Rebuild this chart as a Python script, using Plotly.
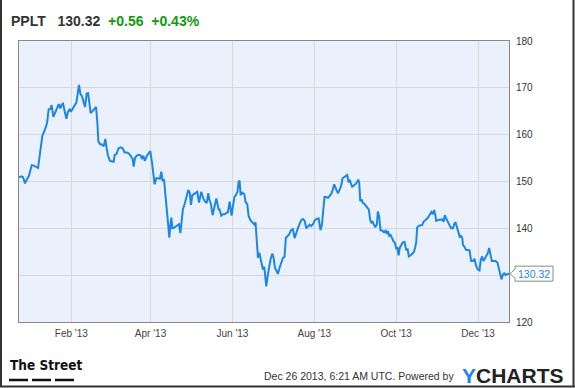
import plotly.graph_objects as go
import pandas as pd

# ---------------- data ----------------
ticker = "PPLT"
last_price_text = "130.32"
change_text = "+0.56"
change_pct_text = "+0.43%"
start_date = "2012-12-24"

# days since start_date
day_offsets = [
    0.0, 1.8, 3.0, 4.5, 6.0, 7.5, 9.5, 11.2, 12.7, 14.2, 15.7, 17.4, 19.1, 20.9,
    22.1, 23.4, 24.3, 25.6, 27.1, 28.3, 29.6, 30.8, 31.8, 32.8, 34.0, 35.3, 36.5,
    37.8, 38.7, 40.0, 41.5, 42.7, 44.0, 44.7, 45.7, 46.9, 48.2, 49.2, 50.4, 51.4,
    52.4, 53.4, 54.9, 56.4, 57.4, 58.4, 59.1, 60.3, 61.6, 63.1, 64.3, 65.3, 66.3,
    67.8, 69.3, 70.5, 71.3, 72.7, 74.2,
    75.7, 77.2, 78.7, 80.2, 81.7, 83.2, 84.7, 85.4, 86.4, 87.6, 89.1, 90.6, 91.6,
    92.6, 93.8, 95.3, 96.8, 97.8, 99.1, 100.1, 101.0, 102.3, 103.8, 105.0, 106.0,
    107.0, 108.0, 109.0, 110.0, 111.2, 112.0, 112.7, 113.5, 114.2, 115.4, 116.7,
    118.2, 119.2, 120.2, 121.1, 122.1, 123.4, 124.6, 126.1, 127.1, 128.1, 129.1,
    130.6, 131.6, 132.8, 134.1, 135.1, 135.8, 137.0, 138.3, 139.8, 141.0, 142.0,
    143.0, 144.2, 145.5, 147.0, 147.7, 148.7,
    149.4, 150.7, 151.9, 153.2, 154.4, 155.6, 156.9, 157.6, 158.4, 159.4, 160.6,
    161.6, 162.8, 163.6, 164.3, 165.1, 166.3, 167.8, 168.8, 170.0, 171.0, 172.3,
    173.8, 175.3, 176.2, 177.2, 178.0, 179.0, 180.0, 181.0, 181.7, 182.7, 183.4,
    184.2, 185.2, 186.2, 187.4, 188.7, 189.7, 190.6, 191.6, 192.9, 194.1, 195.4,
    196.6, 197.8, 198.8, 200.3, 201.6, 202.6, 204.0, 205.3, 206.5, 207.8, 209.0,
    210.3, 211.5, 212.8, 214.0, 215.3, 216.5, 217.7, 219.0, 220.2, 221.5, 223.2,
    224.6, 225.6, 226.9, 227.6, 228.9, 230.1, 231.4, 232.8, 233.8, 234.8, 236.3,
    237.6, 238.8, 240.0, 241.0, 242.3, 243.3, 244.5, 245.5, 246.3, 247.2, 248.2,
    249.7, 251.2, 252.7, 253.4, 254.2, 255.2, 256.2, 257.4, 258.7, 259.6, 260.6,
    261.6, 262.6, 263.4, 264.4, 265.4, 266.6, 267.3, 268.3, 269.3, 270.6, 271.8,
    273.1, 274.0, 274.8, 275.8, 276.8, 277.8, 279.0, 280.0, 281.0, 282.0, 282.7,
    283.7, 284.7, 285.9, 287.2, 288.4, 289.4, 290.4, 291.6, 292.9, 294.1, 295.1,
    295.9, 296.6, 297.9,
    298.4, 300.3, 301.6, 302.8, 304.1, 305.3, 306.6, 307.3, 308.3, 309.3, 310.1,
    310.8, 312.3, 313.8, 315.3, 316.3, 317.2, 318.2, 319.5, 320.7, 321.9, 323.2,
    324.4, 325.2, 326.2, 327.2, 328.2, 329.2, 330.2, 330.7, 331.9, 333.1, 334.3,
    335.6, 336.8, 338.1, 339.3, 340.5, 341.8, 343.0, 344.0, 345.0, 346.0, 347.0,
    348.0, 349.2, 350.2, 351.2, 352.2, 353.5, 355.0, 356.4, 357.4, 358.4, 359.4,
    360.4, 361.4, 362.4, 363.4, 365.0,
]

prices = [
    150.9, 151.1, 150.9, 149.6, 150.5, 151.3, 153.5, 153.4, 153.1, 152.9, 156.1,
    159.8, 160.9, 162.5, 165.4, 165.5, 166.3, 163.8, 164.8, 165.6, 166.5, 165.6,
    166.4, 166.6, 165.0, 163.4, 164.9, 165.4, 164.9, 165.7, 166.3, 166.8, 168.9,
    170.6, 168.7, 168.2, 166.9, 165.9, 168.8, 168.9, 166.8, 164.6, 165.1, 165.7,
    165.9, 162.5, 158.6, 158.0, 157.9, 157.5, 159.1, 157.1, 155.5, 154.4, 154.3,
    154.2, 155.7, 155.9, 157.1,
    157.3, 157.1, 156.2, 156.2, 156.0, 155.5, 154.8, 153.2, 155.0, 155.5, 155.7,
    155.6, 154.8, 155.5, 154.4, 155.5, 156.1, 156.5, 154.0, 151.2, 149.4, 150.7,
    150.7, 150.6, 152.1, 150.1, 150.5, 147.0, 143.4, 140.4, 138.0, 140.6, 142.3,
    140.0, 140.1, 140.4, 140.7, 140.9, 139.0, 141.3, 144.1, 145.2, 146.6, 148.2,
    147.7, 145.0, 147.1, 147.4, 147.7, 147.8, 145.5, 147.3, 147.8, 146.6, 145.8,
    145.4, 147.5, 145.9, 145.2, 142.8, 144.8, 146.4, 145.4, 144.0,
    144.0, 142.7, 143.0, 143.0, 143.3, 143.4, 145.7, 144.0, 142.7, 144.8, 146.8,
    147.1, 147.9, 149.9, 150.2, 147.1, 147.6, 147.3, 145.6, 145.2, 142.7, 141.8,
    141.3, 140.8, 141.3, 135.9, 133.7, 134.8, 133.4, 132.3, 131.2, 131.8, 129.8,
    127.6, 129.8, 131.9, 133.4, 134.6, 133.7, 131.6, 130.9, 130.3, 131.6, 133.0,
    133.7, 133.9, 138.0, 138.4, 138.9, 139.6, 139.8, 137.9, 139.1, 140.1, 140.9,
    141.8, 142.0, 141.6, 140.0, 140.4, 140.8, 140.5, 140.9, 141.6, 142.0, 142.1,
    139.6, 140.7, 145.4, 146.7, 146.7, 146.5, 146.9, 147.5, 148.3, 149.4, 148.3,
    147.5, 148.2, 149.1, 150.7, 150.9, 151.2, 151.4, 149.8, 150.4, 149.6, 148.9,
    149.2, 149.6, 150.4, 149.8, 145.8, 146.2, 145.4, 145.2, 144.7, 144.3, 144.0,
    141.8, 141.1, 141.4, 140.7, 140.2, 140.9, 143.6, 142.5, 139.6, 139.5, 139.2,
    139.5, 138.8, 139.4, 138.4, 138.6, 137.8, 137.2, 136.9, 135.7, 135.8, 134.2,
    135.9, 136.4, 137.0, 137.1, 135.3, 135.7, 134.0, 134.2, 134.6, 134.9, 135.9,
    137.1, 140.2, 140.5,
    140.6, 140.7, 141.5, 141.8, 142.1, 142.6, 143.2, 143.5, 143.0, 143.9, 142.8,
    141.6, 141.8, 141.8, 141.9, 141.4, 142.8, 142.1, 141.3, 140.5, 140.0, 140.0,
    141.1, 141.2, 140.4, 139.3, 138.2, 138.4, 137.9, 136.5, 136.0, 135.4, 135.4,
    135.3, 133.0, 133.0, 133.5, 132.0, 131.2, 131.0, 133.3, 134.0, 133.0, 133.5,
    133.8, 134.7, 135.8, 134.4, 133.0, 133.0, 133.0, 132.7, 131.5, 130.5, 129.1,
    130.1, 130.4, 130.0, 130.2, 130.32,
]

tick_dates = ["2013-02-01", "2013-04-01", "2013-06-01", "2013-08-01", "2013-10-01", "2013-12-01"]
tick_labels = ["Feb '13", "Apr '13", "Jun '13", "Aug '13", "Oct '13", "Dec '13"]
y_tick_vals = [120, 130, 140, 150, 160, 170, 180]
y_tick_text = ["120", "", "140", "150", "160", "170", "180"]  # 130 is hidden behind the price flag
y_range = [120, 180]

footer_text = "Dec 26 2013, 6:21 AM UTC. Powered by"

# ---------------- figure ----------------
dates = pd.Timestamp(start_date) + pd.to_timedelta(day_offsets, unit="D")

LINE = "#1a87e6"
GREEN = "#0f9a0f"
W, H = 575, 388
ML, MR, MT, MB = 19, 66, 41, 66
PW, PH = W - ML - MR, H - MT - MB


def px(x):
    return (x - ML) / PW


def py(y):
    return (H - MB - y) / PH


fig = go.Figure()
fig.add_trace(go.Scatter(
    x=dates, y=prices, mode="lines",
    line=dict(color=LINE, width=2),
    hoverinfo="skip",
))

font = "Liberation Sans, Arial, sans-serif"

fig.update_layout(
    width=W, height=H,
    margin=dict(l=ML, r=MR, t=MT, b=MB, pad=0),
    paper_bgcolor="white",
    plot_bgcolor="#EAF1FC",
    showlegend=False,
    font=dict(family=font, size=10, color="#333"),
    xaxis=dict(
        range=[dates[0], dates[-1]],
        tickvals=tick_dates, ticktext=tick_labels,
        showgrid=True, gridcolor="#D8D8D8", gridwidth=1,
        showline=True, linecolor="#888", linewidth=1, mirror=True,
        ticks="", zeroline=False,
        tickfont=dict(family=font, size=10, color="#444"),
        ticklabelstandoff=2,
    ),
    yaxis=dict(
        range=y_range, tickvals=y_tick_vals, ticktext=y_tick_text,
        side="right",
        showgrid=True, gridcolor="#D8D8D8", gridwidth=1,
        showline=True, linecolor="#888", linewidth=1, mirror=True,
        ticks="", zeroline=False,
        tickfont=dict(family=font, size=10, color="#333"),
        ticklabelstandoff=4,
    ),
)

# Title line
title_html = (
    f"<b>{ticker}</b>&nbsp;&nbsp;&nbsp;<b>{last_price_text}</b>&nbsp;&nbsp;"
    f"<span style='color:{GREEN}'><b>{change_text}</b>&nbsp;&nbsp;<b>{change_pct_text}</b></span>"
)
fig.add_annotation(
    xref="paper", yref="paper", x=px(8.5), y=py(21),
    xanchor="left", yanchor="middle", showarrow=False,
    text=title_html, font=dict(family=font, size=14, color="#333"),
)

# Last price label (box + notch) anchored at last data point
fig.add_shape(
    type="path", xref="paper", yref="y",
    xsizemode="pixel", ysizemode="pixel",
    xanchor=1, yanchor=prices[-1],
    path="M 1,0 L 6,4.5 L 6,7.5 L 44,7.5 L 44,-7.5 L 6,-7.5 L 6,-4.5 Z",
    fillcolor="white", line=dict(color="#8a8a8a", width=1), layer="above",
)
fig.add_annotation(
    xref="paper", yref="y", x=1, y=prices[-1], xshift=25,
    xanchor="center", yanchor="middle", showarrow=False,
    text=f"{prices[-1]:.2f}", font=dict(family=font, size=10.5, color=LINE),
)

# Footer: The Street logo
fig.add_annotation(
    xref="paper", yref="paper", x=px(7.5), y=py(365),
    xanchor="left", yanchor="middle", showarrow=False,
    text="<b>The Street</b>",
    font=dict(family="Liberation Sans Narrow, DejaVu Sans Condensed, Arial Narrow, sans-serif", size=13.5, color="#111"),
)
for x0, x1 in [(9, 28), (32, 51), (55, 74)]:
    fig.add_shape(type="line", xref="paper", yref="paper",
                  x0=px(x0), x1=px(x1), y0=py(380), y1=py(380),
                  line=dict(color="#111", width=2.5))

# Footer text and YCHARTS
fig.add_annotation(
    xref="paper", yref="paper", x=px(456), y=py(376),
    xanchor="right", yanchor="middle", showarrow=False,
    text=footer_text, font=dict(family=font, size=10.5, color="#333"),
)
fig.add_annotation(
    xref="paper", yref="paper", x=px(460), y=py(375.5),
    xanchor="left", yanchor="middle", showarrow=False,
    text=f"<b><span style='color:{LINE}'>Y</span>CHARTS</b>",
    font=dict(family=font, size=21, color="#222"),
)

# Outer frame (left, right, bottom)
for (x0, y0, x1, y1) in [(1, 0, 1, 387), (573.5, 0, 573.5, 387), (0, 386.5, 575, 386.5)]:
    fig.add_shape(type="line", xref="paper", yref="paper",
                  x0=px(x0), x1=px(x1), y0=py(y0), y1=py(y1),
                  line=dict(color="#333", width=2))

fig.write_html("out.html")
